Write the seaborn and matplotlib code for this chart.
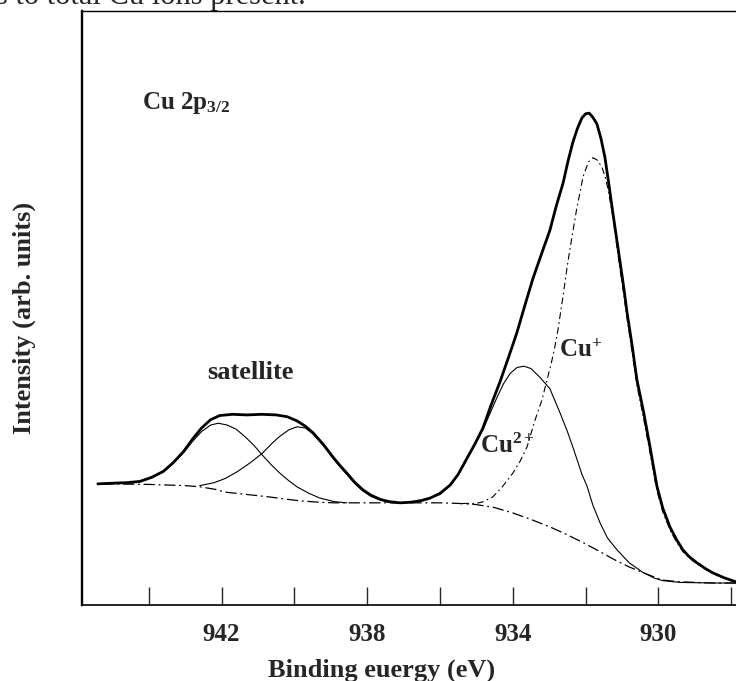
import numpy as np
import pandas as pd
import matplotlib
matplotlib.use("Agg")
import matplotlib.pyplot as plt
import seaborn as sns

# ---------------- data ----------------
# binding energy (eV) and intensity (arb. units, 0 = bottom axis, 100 = top)
total_E = [945.40, 945.0, 944.6, 944.25, 943.92, 943.6, 943.34, 943.05, 942.79, 942.55,
           942.30, 942.05, 941.7, 941.3, 940.9, 940.5, 940.2, 939.93, 939.7, 939.49,
           939.2, 938.94, 938.75, 938.56, 938.35, 938.12, 937.9, 937.65, 937.4, 937.1,
           936.8, 936.5, 936.27, 936.0, 935.72, 935.5, 935.26, 935.05, 934.82, 934.6,
           934.35, 934.1, 933.89, 933.67, 933.45, 933.2, 932.98, 932.8, 932.62, 932.48,
           932.35, 932.22, 932.10, 932.0, 931.90, 931.80, 931.69, 931.58, 931.47, 931.36,
           931.25, 931.15, 931.05, 930.95, 930.86, 930.72, 930.59, 930.41, 930.23, 930.04,
           929.88, 929.68, 929.5, 929.33, 929.15, 928.94, 928.7, 928.5, 928.2, 927.87]
total_I = [20.4, 20.5, 20.6, 20.8, 21.5, 22.5, 23.9, 25.8, 28.0, 29.8,
           31.2, 31.9, 32.1, 32.0, 32.1, 32.0, 31.7, 31.0, 30.1, 29.0,
           27.0, 24.9, 23.5, 22.2, 20.7, 19.4, 18.5, 17.8, 17.4, 17.2,
           17.3, 17.6, 18.0, 18.8, 20.2, 22.0, 24.7, 27.0, 29.8, 33.6,
           37.6, 42.0, 45.8, 50.4, 54.9, 59.3, 63.1, 67.3, 71.0, 74.8,
           77.9, 80.3, 82.0, 82.7, 82.8, 82.1, 81.0, 78.6, 75.4, 70.8,
           66.0, 61.8, 57.6, 53.4, 49.2, 43.6, 37.9, 32.6, 26.6, 20.0,
           16.3, 13.1, 11.0, 9.3, 8.1, 7.1, 6.1, 5.4, 4.6, 3.9]

bg_E = [945.40, 944.0, 943.0, 942.6, 942.2, 941.9, 941.3, 940.7, 940.2, 939.8,
        939.3, 938.9, 938.0, 937.0, 936.0, 935.5, 935.0, 934.5, 934.0, 933.5,
        933.0, 932.6, 932.1, 931.7, 931.2, 930.8, 930.4, 929.9, 929.4, 928.5, 927.87]
bg_I = [20.4, 20.3, 20.1, 19.9, 19.5, 19.0, 18.6, 18.2, 17.8, 17.5,
        17.3, 17.2, 17.2, 17.2, 17.2, 17.1, 16.9, 16.4, 15.5, 14.4,
        13.2, 12.1, 10.6, 9.3, 7.6, 6.4, 5.4, 4.2, 3.9, 3.7, 3.7]

sat1_E = [945.40, 944.6, 944.25, 943.92, 943.6, 943.34, 943.05, 942.79, 942.55, 942.3,
          942.09, 941.85, 941.6, 941.35, 941.1, 940.89, 940.65, 940.4, 940.15, 939.93,
          939.6, 939.3, 938.9, 938.56]
sat1_I = [20.4, 20.5, 20.7, 21.4, 22.4, 23.8, 25.6, 27.6, 29.2, 30.3,
          30.6, 30.3, 29.6, 28.3, 26.8, 25.3, 23.7, 22.2, 20.9, 19.9,
          18.8, 18.0, 17.4, 17.2]

sat2_E = [942.6, 942.2, 941.9, 941.58, 941.2, 940.89, 940.6, 940.4, 940.15, 939.93,
          939.7, 939.49, 939.2, 938.94, 938.75, 938.56, 938.35, 938.12, 937.9, 937.65,
          937.4, 937.1]
sat2_I = [20.1, 20.6, 21.3, 22.4, 24.0, 25.5, 27.3, 28.4, 29.5, 30.0,
          29.8, 28.8, 26.8, 24.7, 23.3, 22.0, 20.5, 19.2, 18.3, 17.7,
          17.3, 17.2]

cu2_E = [936.5, 936.0, 935.72, 935.5, 935.26, 935.05, 934.82, 934.6, 934.43, 934.25,
         934.07, 933.88, 933.69, 933.5, 933.25, 932.98, 932.7, 932.5, 932.35, 932.1,
         931.96, 931.80, 931.6, 931.4, 931.14, 930.8, 930.43, 930.1, 929.88, 929.4,
         928.5, 927.87]
cu2_I = [17.6, 18.6, 20.1, 21.9, 24.5, 26.9, 29.5, 32.6, 35.0, 37.3,
         39.0, 40.0, 40.2, 39.8, 38.3, 36.4, 32.3, 29.2, 26.6, 22.0,
         20.0, 16.8, 13.8, 11.3, 9.3, 7.1, 5.5, 4.5, 4.1, 3.8,
         3.7, 3.7]

cu1_E = [935.5, 935.0, 934.8, 934.55, 934.3, 934.0, 933.8, 933.61, 933.39, 933.2,
         933.06, 932.95, 932.84, 932.76, 932.62, 932.51, 932.40, 932.25, 932.07, 931.92,
         931.80, 931.68, 931.55, 931.46, 931.38, 931.25, 931.15, 931.05, 930.95, 930.86,
         930.72, 930.59, 930.41, 930.23, 930.04, 929.88, 929.68, 929.5, 929.33, 929.15,
         928.94, 928.7, 928.5, 928.2, 927.87]
cu1_I = [17.1, 17.1, 17.4, 18.2, 19.8, 22.2, 24.2, 26.6, 31.1, 34.5,
         37.9, 40.5, 43.6, 46.3, 52.0, 56.8, 61.0, 66.5, 72.1, 74.6,
         75.3, 74.9, 73.7, 72.0, 69.9, 65.3, 60.8, 56.3, 52.2, 48.2,
         42.5, 37.0, 31.5, 25.6, 19.2, 15.7, 12.6, 10.6, 9.0, 7.9,
         6.9, 6.0, 5.3, 4.5, 3.8]

tick_E = [944, 942, 940, 938, 936, 934, 932, 930, 928]
tick_labels = ["", "942", "", "938", "", "934", "", "930", ""]

# ---------------- styling ----------------
sns.set_style("white")
plt.rcParams["font.family"] = ["Liberation Serif", "DejaVu Serif"]
plt.rcParams["font.weight"] = "bold"
plt.rcParams["mathtext.fontset"] = "custom"
plt.rcParams["mathtext.rm"] = "Liberation Serif:bold"
plt.rcParams["mathtext.it"] = "Liberation Serif:bold"
plt.rcParams["mathtext.bf"] = "Liberation Serif:bold"

W, H = 736, 681
fig = plt.figure(figsize=(W / 100, H / 100), dpi=100)
ax = fig.add_axes([82 / W, 76 / H, (W - 82) / W, 594 / H])

def draw(E, I, **kw):
    df = pd.DataFrame({"E": E, "I": I})
    sns.lineplot(data=df, x="E", y="I", ax=ax, color="black", estimator=None,
                 sort=True, **kw)

draw(bg_E, bg_I, lw=0.9, linestyle=(0, (9, 3, 1.5, 3)))
draw(sat1_E, sat1_I, lw=0.8)
draw(sat2_E, sat2_I, lw=0.8)
draw(cu2_E, cu2_I, lw=0.8)
draw(cu1_E, cu1_I, lw=0.8, linestyle=(0, (6, 3, 1.5, 3)))
draw(total_E, total_I, lw=2.0)

ax.set_xlim(945.835, 927.868)
ax.set_ylim(0, 100)
ax.set_xticks(tick_E)
ax.set_xticklabels(tick_labels)
ax.set_yticks([])
ax.tick_params(axis="x", direction="in", length=13, width=1.0, pad=13,
               labelsize=18, bottom=True)
for lab in ax.get_xticklabels():
    lab.set_fontweight("bold")
ax.set_xlabel("")
ax.set_ylabel("")
ax.spines["right"].set_visible(False)
ax.spines["left"].set_linewidth(1.7)
ax.spines["top"].set_linewidth(1.0)
ax.spines["bottom"].set_linewidth(1.2)
for s in ax.spines.values():
    s.set_color("black")

# annotations
ax.text(941.22, 39.1, "satellite", fontsize=19, fontweight="bold",
        ha="center", va="center")
ax.text(944.2, 84.5, "Cu 2p$_{3/2}$", fontsize=18, fontweight="bold",
        ha="left", va="center")
ax.text(932.72, 42.8, "Cu$^{+}$", fontsize=18, fontweight="bold",
        ha="left", va="center")
ax.text(934.9, 26.8, "Cu$^{2+}$", fontsize=18, fontweight="bold",
        ha="left", va="center")

fig.text(382 / W, 1 - 670 / H, "Binding euergy (eV)", fontsize=19,
         fontweight="bold", ha="center", va="center")
fig.text(24 / W, 1 - 318 / H, "Intensity (arb. units)", fontsize=19,
         fontweight="bold", ha="center", va="center", rotation=90)
fig.text(-4 / W, 1 - 4 / H, "s to total Cu ions present.", fontsize=22,
         fontweight="normal", ha="left", va="baseline")

fig.savefig("out.png", dpi=100, facecolor="white")
